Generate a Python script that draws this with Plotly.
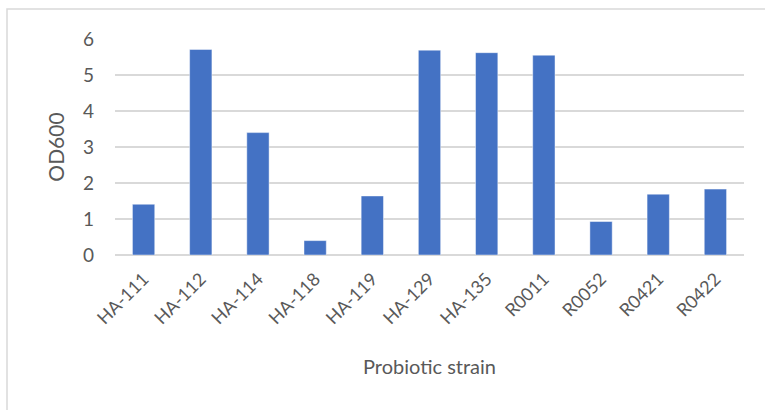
import plotly.graph_objects as go

strains = ["HA-111", "HA-112", "HA-114", "HA-118", "HA-119", "HA-129",
           "HA-135", "R0011", "R0052", "R0421", "R0422"]
od600 = [1.41, 5.71, 3.40, 0.40, 1.64, 5.69, 5.62, 5.55, 0.93, 1.69, 1.83]
y_ticks = [0, 1, 2, 3, 4, 5, 6]

FONT = "Lato"
GRAY = "#595959"
GRID = "#d9d9d9"

fig = go.Figure(go.Bar(
    x=strains, y=od600,
    marker=dict(color="#4472C4", line=dict(color="rgba(255,255,255,0.45)", width=1)),
))

fig.update_layout(
    width=765, height=410,
    margin=dict(l=115, r=21, t=39, b=155),
    paper_bgcolor="white", plot_bgcolor="white",
    bargap=0.61,
    showlegend=False,
    font=dict(family=FONT, color=GRAY),
    xaxis=dict(
        tickangle=-45, tickfont=dict(size=18, color=GRAY, family=FONT),
        showgrid=False, showline=False, ticks="", ticklabelstandoff=9,
        title=dict(text="Probiotic strain", font=dict(size=20, color=GRAY, family=FONT), standoff=32),
        automargin=False,
    ),
    yaxis=dict(
        range=[0, 6], tickvals=y_ticks,
        tickfont=dict(size=19, color=GRAY, family=FONT),
        showgrid=True, gridcolor=GRID, gridwidth=1.5,
        zeroline=True, zerolinecolor=GRID, zerolinewidth=1.5,
        showline=False, ticks="", ticklabelstandoff=20,
        title=dict(text="OD600", font=dict(size=21, color=GRAY, family=FONT), standoff=12),
        automargin=False,
    ),
    shapes=[dict(type="rect", xref="paper", yref="paper",
                 x0=(7 - 115) / 629, x1=(790 - 115) / 629,
                 y0=(255 - 440) / 216, y1=(255 - 9) / 216,
                 line=dict(color=GRID, width=1.5), fillcolor="rgba(0,0,0,0)",
                 layer="below")],
)

fig.write_html("out.html")
